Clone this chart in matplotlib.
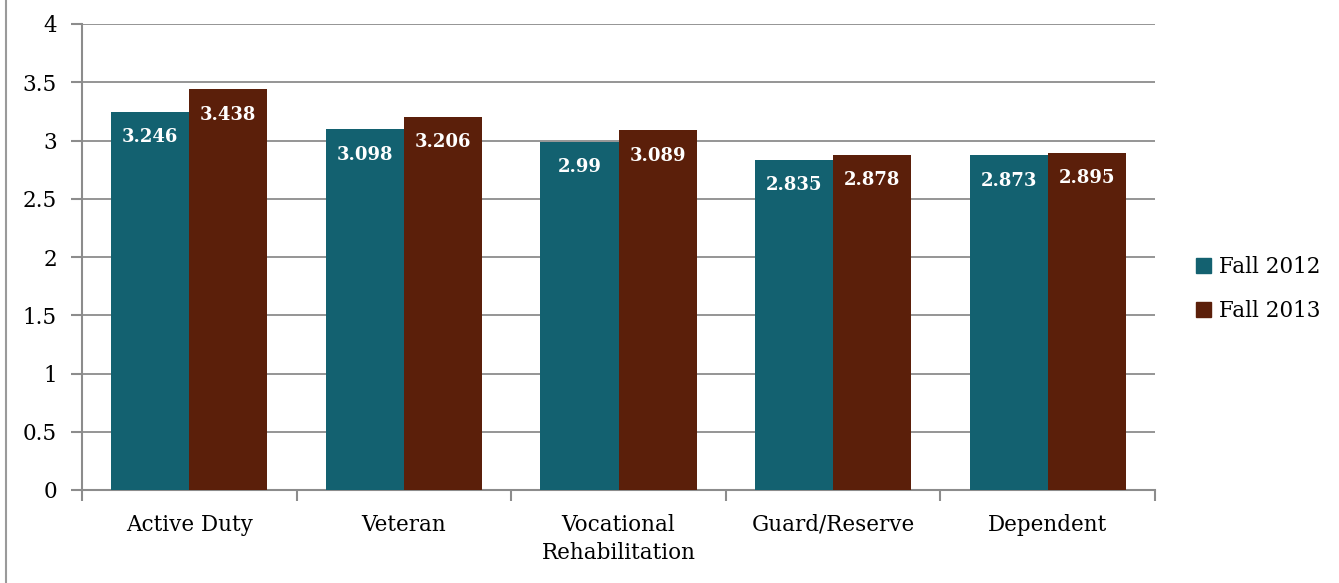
import matplotlib
matplotlib.use("Agg")
import matplotlib.pyplot as plt
import numpy as np
from matplotlib.patches import Rectangle
from matplotlib.lines import Line2D

categories = ["Active Duty", "Veteran", "Vocational\nRehabilitation", "Guard/Reserve", "Dependent"]
series_names = ["Fall 2012", "Fall 2013"]
fall2012 = [3.246, 3.098, 2.99, 2.835, 2.873]
fall2013 = [3.438, 3.206, 3.089, 2.878, 2.895]
label2012 = ["3.246", "3.098", "2.99", "2.835", "2.873"]
label2013 = ["3.438", "3.206", "3.089", "2.878", "2.895"]
yticks = [0, 0.5, 1, 1.5, 2, 2.5, 3, 3.5, 4]
ytick_labels = ["0", "0.5", "1", "1.5", "2", "2.5", "3", "3.5", "4"]

teal = "#136170"
brown = "#5B1F0A"
grid_c = "#8c8c8c"

plt.rcParams['font.family'] = ['DejaVu Serif']

fig = plt.figure(figsize=(13.39, 5.83), dpi=100)
ax = fig.add_axes([82/1339, 1 - 490/583, (1155-82)/1339, (490-24)/583])

x = np.arange(len(categories))
w = 0.3635
ax.bar(x - w/2, fall2012, w, color=teal, zorder=3, label=series_names[0])
ax.bar(x + w/2, fall2013, w, color=brown, zorder=3, label=series_names[1])

for xi, v, t in zip(x, fall2012, label2012):
    ax.text(xi - w/2, v - 0.22, t, ha="center", va="center", color="white",
            fontsize=13, fontweight="bold", zorder=4)
for xi, v, t in zip(x, fall2013, label2013):
    ax.text(xi + w/2, v - 0.22, t, ha="center", va="center", color="white",
            fontsize=13, fontweight="bold", zorder=4)

ax.set_xlim(-0.5, len(categories) - 0.5)
ax.set_ylim(0, 4)
ax.set_yticks(yticks)
ax.set_yticklabels(ytick_labels, fontsize=15.5)
ax.yaxis.grid(True, color=grid_c, linewidth=1.3, zorder=0)
ax.set_axisbelow(True)

ax.set_xticks(x)
ax.set_xticklabels(categories, fontsize=15.5, linespacing=1.4)
ax.tick_params(axis="x", length=0, pad=17)
ax.set_xticks(np.arange(-0.5, len(categories)), minor=True)
ax.tick_params(axis="x", which="minor", length=8, width=1.5, color=grid_c)
ax.tick_params(axis="y", length=8, width=1.5, color=grid_c, pad=10)

for s in ["top", "right"]:
    ax.spines[s].set_visible(False)
for s in ["left", "bottom"]:
    ax.spines[s].set_color(grid_c)
    ax.spines[s].set_linewidth(1.5)

handles = [Rectangle((0, 0), 1, 1, color=teal), Rectangle((0, 0), 1, 1, color=brown)]
fig.legend(handles, series_names, loc="center left", bbox_to_anchor=(1177/1339, 1 - 289/583),
           frameon=False, fontsize=15.5, handlelength=0.7, handleheight=0.7,
           handletextpad=0.35, labelspacing=1.0)

# figure left border line
fig.add_artist(Line2D([6/1339, 6/1339], [0, 1], color="#9a9a9a", linewidth=1.5))

fig.savefig("out.png", dpi=100)
